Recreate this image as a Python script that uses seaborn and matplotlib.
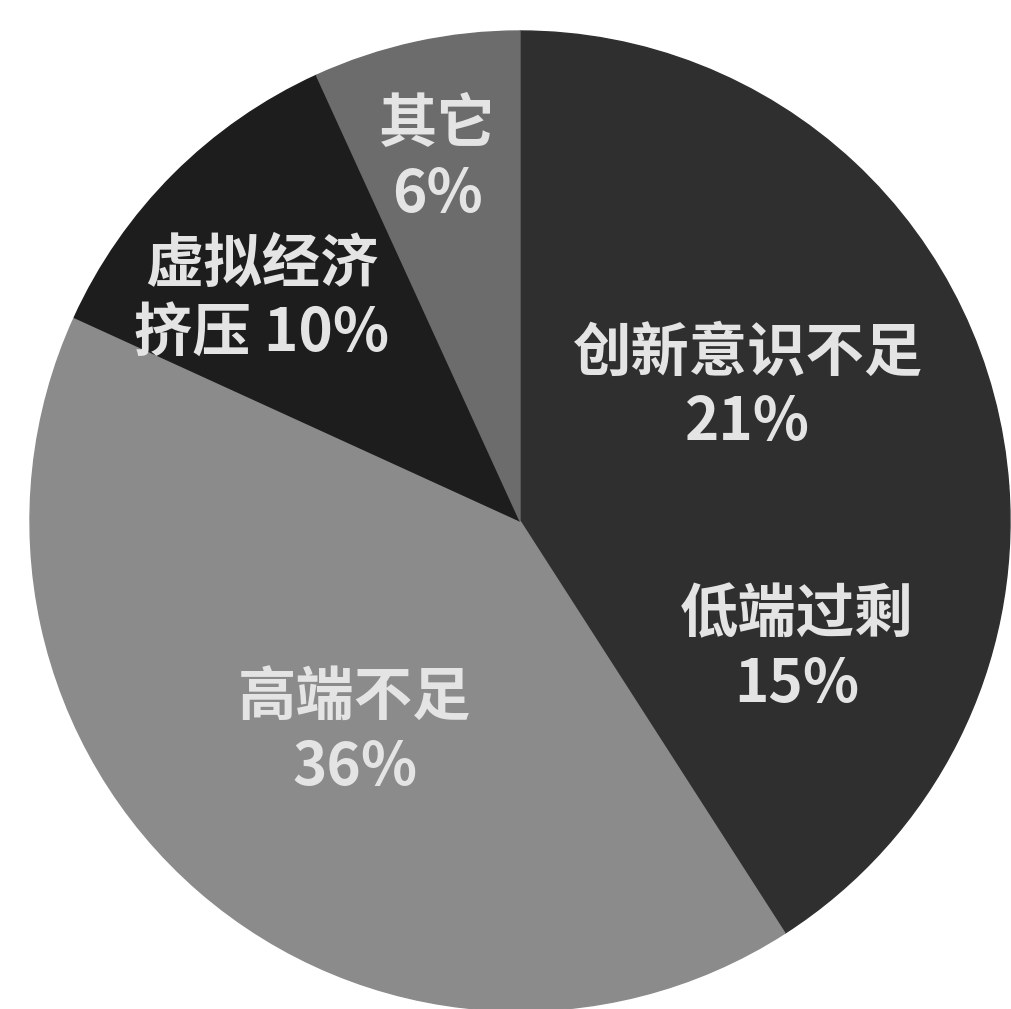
import matplotlib
matplotlib.use('Agg')
import matplotlib.pyplot as plt
import seaborn as sns

sns.set_theme(style='white')
plt.rcParams['font.family'] = ['Noto Sans CJK SC', 'DejaVu Sans']
plt.rcParams['axes.unicode_minus'] = False

# data
categories = ['创新意识不足', '低端过剩', '高端不足', '虚拟经济挤压', '其它']
values = [21, 15, 36, 10, 6]
label_texts = ['创新意识不足\n21%', '低端过剩\n15%', '高端不足\n36%', '虚拟经济\n挤压 10%', '其它\n6%']
colors = ['#2f2f2f', '#2f2f2f', '#8b8b8b', '#1d1d1d', '#6c6c6c']


def draw_pie():
    fig = plt.figure(figsize=(10.12, 10.09), dpi=100)
    ax = fig.add_axes([0, 0, 1, 1])

    wedges, _ = ax.pie(values, colors=colors, startangle=90, counterclock=False,
                       radius=1.0, wedgeprops={'linewidth': 1.0})
    # hide antialias seams between wedges of the same colour
    for w in wedges:
        w.set_edgecolor(w.get_facecolor())

    # label anchors (data coords, pie radius = 1)
    label_pos = [(0.465, 0.271), (0.565, -0.263), (-0.337, -0.433),
                 (-0.527, 0.451), (-0.169, 0.737)]
    for txt, (x, y) in zip(label_texts, label_pos):
        ax.text(x, y, txt, ha='center', va='center', fontsize=42,
                fontweight='bold', color='#e4e4e4', linespacing=1.2)

    ax.set_xlim(-520 / 490, 492 / 490)
    ax.set_ylim(-488 / 490, 521 / 490)
    ax.set_aspect('equal')
    ax.axis('off')

    fig.savefig('out.png', dpi=100, facecolor='white')


if __name__ == "__main__":
    draw_pie()
